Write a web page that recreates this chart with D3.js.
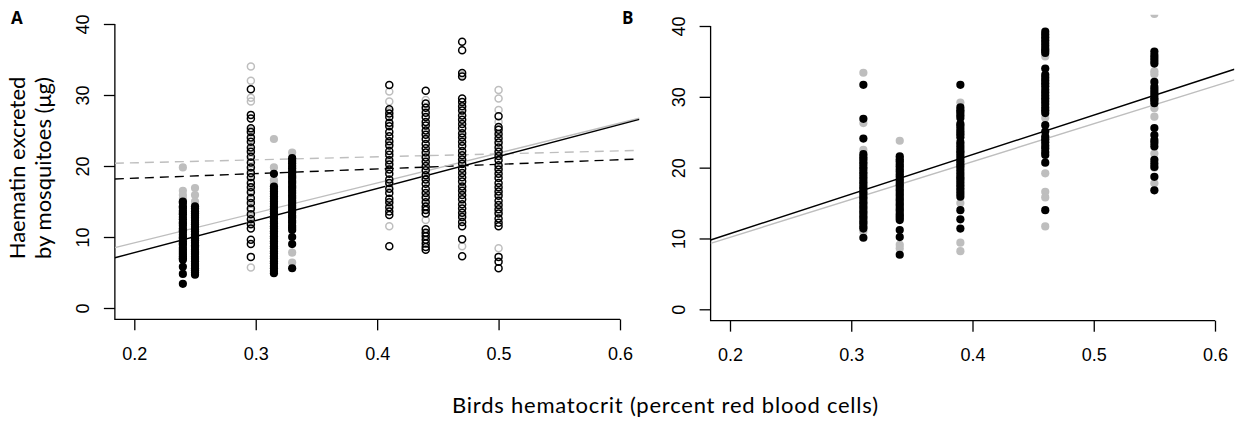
<!DOCTYPE html>
<html>
<head>
<meta charset="utf-8">
<script src="https://cdn.jsdelivr.net/npm/d3@7"></script>
<style>
  body { margin: 0; background: #fff; }
  .tick text { font-family: "Liberation Sans", Arial, sans-serif; font-size: 18px; fill: #000; }
  .tick line { stroke: #000; stroke-width: 1.3px; }
</style>
</head>
<body>
<div id="chart"></div>
<script>
// ---- data: panel A (hematocrit groups, haematin values per group) ----
var hctA = [0.24, 0.25, 0.296, 0.315, 0.33, 0.41, 0.44, 0.47, 0.50];
var openA = [false, false, true, false, false, true, true, true, true];
var blackA = [
  [15.0,14.8,14.3,14.1,13.7,13.4,13.2,12.8,12.5,12.1,11.9,11.6,11.2,10.9,10.7,10.3,10.0,9.8,9.4,9.1,8.9,8.5,8.2,7.9,7.6,7.3,7.0,6.8,5.8,4.8,3.4],
  [14.3,14.0,13.6,13.3,13.0,12.7,12.3,12.0,11.8,11.4,11.1,10.8,10.4,10.1,9.8,9.5,9.2,8.8,8.6,8.2,7.9,7.6,7.2,6.9,6.6,6.2,5.9,5.6,5.3,5.0,4.7],
  [30.8,27.2,26.7,25.3,24.8,24.0,23.4,22.6,22.0,21.3,20.5,19.8,19.0,18.4,17.6,17.0,16.3,15.5,14.8,14.0,13.2,12.5,11.8,11.2,9.6,9.0,7.2],
  [18.9,17.1,16.8,16.4,16.1,15.7,15.4,15.0,14.7,14.3,14.0,13.6,13.3,12.9,12.6,12.2,11.9,11.5,11.2,10.8,10.5,10.1,9.8,9.4,9.1,8.7,8.4,8.0,7.7,7.3,7.0,6.6,6.3,5.9,5.6,5.2,4.9],
  [21.1,20.7,20.4,20.0,19.7,19.3,19.0,18.6,18.3,17.9,17.6,17.2,16.9,16.5,16.2,15.8,15.5,15.1,14.8,14.4,14.1,13.7,13.4,13.0,12.7,12.3,12.0,11.6,11.3,11.0,10.0,9.0,5.6],
  [31.4,28.0,27.4,26.9,26.1,25.6,24.8,24.2,23.5,22.9,22.1,21.6,20.8,20.2,19.5,18.9,18.1,17.6,16.8,16.2,15.4,14.9,14.2,13.6,13.1,8.7],
  [30.6,28.8,28.2,27.5,26.9,26.2,25.7,25.0,24.4,23.8,23.1,22.5,21.9,21.2,20.6,20.0,19.4,18.7,18.1,17.5,16.8,16.2,15.6,14.9,14.3,13.8,13.3,11.1,10.6,10.1,9.6,9.1,8.6,8.2],
  [37.5,36.3,33.1,32.6,29.5,29.0,28.4,27.8,27.1,26.5,25.9,25.3,24.6,24.0,23.4,22.8,22.1,21.5,20.9,20.3,19.6,19.0,18.4,17.8,17.1,16.5,15.9,15.3,14.6,14.0,13.4,12.8,12.1,11.5,9.7,7.3],
  [27.0,25.5,25.1,24.5,23.9,23.3,22.6,22.0,21.4,20.8,20.1,19.5,18.9,18.3,17.6,17.0,16.4,15.8,15.1,14.5,13.9,13.3,12.6,12.0,11.5,7.2,6.5,5.6]
];
var greyA = [
  [19.8,16.5,15.9,15.4],
  [16.9,15.9,15.0],
  [34.0,32.0,29.6,29.1,25.0,23.8,22.3,20.9,19.4,17.9,16.6,15.2,13.7,12.0,5.7],
  [23.8,19.8,18.0,17.5],
  [21.9,7.8,6.4],
  [30.5,29.1,27.7,25.9,23.2,20.5,17.3,14.6,11.5],
  [29.3,27.8,24.7,21.5,18.4,15.3,14.0,12.4,10.4],
  [32.8,28.1,24.3,20.6,16.8,13.1,8.7],
  [30.7,29.5,27.9,26.2,23.0,19.8,16.1,13.6,8.4]
];
// fitted lines: [intercept, slope]
var fitBlackA = [-1.22, 45.1];
var fitGreyA = [0.73, 42.2];
var fitBlackDashA = [16.97, 6.53];
var fitGreyDashA = [19.61, 4.2];

// ---- data: panel B ----
var hctB = [0.31, 0.34, 0.39, 0.46, 0.55];
var openB = [false, false, false, false, false];
var blackB = [
  [31.7,26.9,24.1,21.9,21.5,21.2,20.8,20.5,20.1,19.8,19.4,19.1,18.7,18.4,18.0,17.7,17.3,17.0,16.6,16.3,15.9,15.6,15.2,14.9,14.5,14.2,13.8,13.5,13.1,12.8,12.4,12.1,11.7,11.4,10.1],
  [21.6,21.2,20.9,20.5,20.2,19.8,19.5,19.1,18.8,18.4,18.1,17.7,17.4,17.0,16.7,16.3,16.0,15.6,15.3,14.9,14.6,14.2,13.9,13.5,13.2,12.9,12.6,11.2,10.2,7.7],
  [31.7,28.5,28.1,27.8,27.4,27.0,26.2,25.9,25.5,25.1,24.7,24.3,23.6,23.2,22.8,22.4,22.1,21.7,21.3,20.9,20.5,20.2,19.8,19.4,19.0,18.6,18.3,17.9,17.5,17.1,16.7,16.3,15.9,14.0,12.7,11.4],
  [39.2,38.8,38.4,38.0,37.6,37.2,36.8,36.5,36.2,34.0,33.1,32.7,32.3,31.9,31.5,31.0,30.6,30.2,29.8,29.4,29.0,28.5,28.1,27.7,26.0,25.1,24.4,24.0,23.6,23.1,22.7,22.2,21.8,20.7,14.0],
  [36.4,35.9,35.5,35.1,34.7,32.1,31.4,31.0,30.6,30.2,29.8,29.5,29.1,25.6,24.6,23.9,23.5,23.0,21.1,20.6,20.1,18.7,16.8]
];
var greyB = [
  [33.4,26.3,22.5,11.0],
  [23.8,9.1,8.6],
  [29.2,24.9,15.0,9.4,8.2],
  [35.7,27.0,19.2,16.6,15.8,11.7],
  [41.7,33.6,33.2,28.4,27.2,22.0,20.0,17.8]
];
var fitBlackB = [-0.48, 55.8];
var fitGreyB = [-0.51, 53.4];

var xTicks = [0.2, 0.3, 0.4, 0.5, 0.6];
var yTicks = [0, 10, 20, 30, 40];

var GREY = "#bebebe";

var svg = d3.select("#chart").append("svg")
  .attr("width", 1238)
  .attr("height", 421)
  .style("background", "#fff");

function panel(opt){
  var x = d3.scaleLinear().domain([0.2, 0.6]).range([opt.x02, opt.x06]);
  var y = d3.scaleLinear().domain([0, 40]).range([opt.y0, opt.y40]);
  var left = x(0.184), right = x(0.616), bottom = y(-1.6), top = y(41.6);

  var g = svg.append("g");

  g.append("clipPath")
    .attr("id", "clip" + opt.id)
    .append("rect")
    .attr("x", left).attr("y", top)
    .attr("width", right - left).attr("height", bottom - top);

  // axes (L-shaped, as in base R with bty="l")
  g.append("path")
    .attr("d", "M" + left + "," + y(40) + "V" + bottom + "H" + x(0.6))
    .attr("fill", "none")
    .attr("stroke", "#000")
    .attr("stroke-width", 1.3);

  var yAx = g.append("g")
    .attr("transform", "translate(" + left + ",0)")
    .call(d3.axisLeft(y).tickValues(yTicks).tickSize(11).tickSizeOuter(0).tickFormat(d3.format("d")));
  yAx.select(".domain").remove();
  yAx.selectAll("text")
    .attr("transform", "rotate(-90)")
    .attr("x", 0)
    .attr("y", -25.5)
    .attr("dy", 0)
    .style("text-anchor", "middle");

  var xAx = g.append("g")
    .attr("transform", "translate(0," + bottom + ")")
    .call(d3.axisBottom(x).tickValues(xTicks).tickSize(11).tickSizeOuter(0).tickFormat(d3.format(".1f")));
  xAx.select(".domain").remove();
  xAx.selectAll("text")
    .attr("y", 40.5)
    .attr("dy", 0);

  var plot = g.append("g").attr("clip-path", "url(#clip" + opt.id + ")");

  // regression lines
  opt.lines.forEach(function(l){
    plot.append("line")
      .attr("x1", left).attr("x2", right)
      .attr("y1", y(l.fit[0] + l.fit[1] * 0.184))
      .attr("y2", y(l.fit[0] + l.fit[1] * 0.616))
      .attr("stroke", l.color)
      .attr("stroke-width", 1.4)
      .attr("stroke-dasharray", l.dash ? "9,6" : null);
  });

  // points: grey first, black on top
  [[opt.grey, GREY], [opt.black, "#000"]].forEach(function(set){
    var pts = [];
    set[0].forEach(function(vals, i){
      vals.forEach(function(v){ pts.push({h: opt.hct[i], v: v, open: opt.open[i]}); });
    });
    plot.append("g").selectAll("circle")
      .data(pts)
      .enter()
      .append("circle")
      .attr("cx", function(d){ return x(d.h); })
      .attr("cy", function(d){ return y(d.v); })
      .attr("r", function(d){ return d.open ? 3.5 : 4.1; })
      .attr("fill", function(d){ return d.open ? "none" : set[1]; })
      .attr("stroke", function(d){ return d.open ? set[1] : "none"; })
      .attr("stroke-width", 1.5);
  });

  g.append("text")
    .attr("x", opt.labelX)
    .attr("y", 24)
    .attr("font-family", "'Open Sans', sans-serif")
    .attr("font-weight", "bold")
    .attr("font-size", 17)
    .text(opt.label);
}

panel({id: "A", label: "A", labelX: 11, x02: 134.3, x06: 620, y0: 308, y40: 24,
  hct: hctA, open: openA, black: blackA, grey: greyA,
  lines: [
    {fit: fitGreyDashA, color: GREY, dash: true},
    {fit: fitBlackDashA, color: "#000", dash: true},
    {fit: fitGreyA, color: GREY, dash: false},
    {fit: fitBlackA, color: "#000", dash: false}
  ]});

panel({id: "B", label: "B", labelX: 622, x02: 730, x06: 1215, y0: 309.3, y40: 26,
  hct: hctB, open: openB, black: blackB, grey: greyB,
  lines: [
    {fit: fitGreyB, color: GREY, dash: false},
    {fit: fitBlackB, color: "#000", dash: false}
  ]});

// y axis title (two lines)
var yTitle = svg.append("text")
  .attr("transform", "translate(25,168) rotate(-90)")
  .attr("font-family", "Lato, 'Open Sans', sans-serif")
  .attr("font-size", 22)
  .style("text-anchor", "middle");
yTitle.append("tspan").attr("x", 0).attr("y", 0).text("Haematin excreted");
yTitle.append("tspan").attr("x", 0).attr("y", 25.5).text("by mosquitoes (μg)");

// x axis title
svg.append("text")
  .attr("x", 665)
  .attr("y", 413)
  .attr("font-family", "Lato, 'Open Sans', sans-serif")
  .attr("font-size", 22)
  .attr("textLength", 426)
  .attr("lengthAdjust", "spacing")
  .style("text-anchor", "middle")
  .text("Birds hematocrit (percent red blood cells)");
</script>
</body>
</html>
